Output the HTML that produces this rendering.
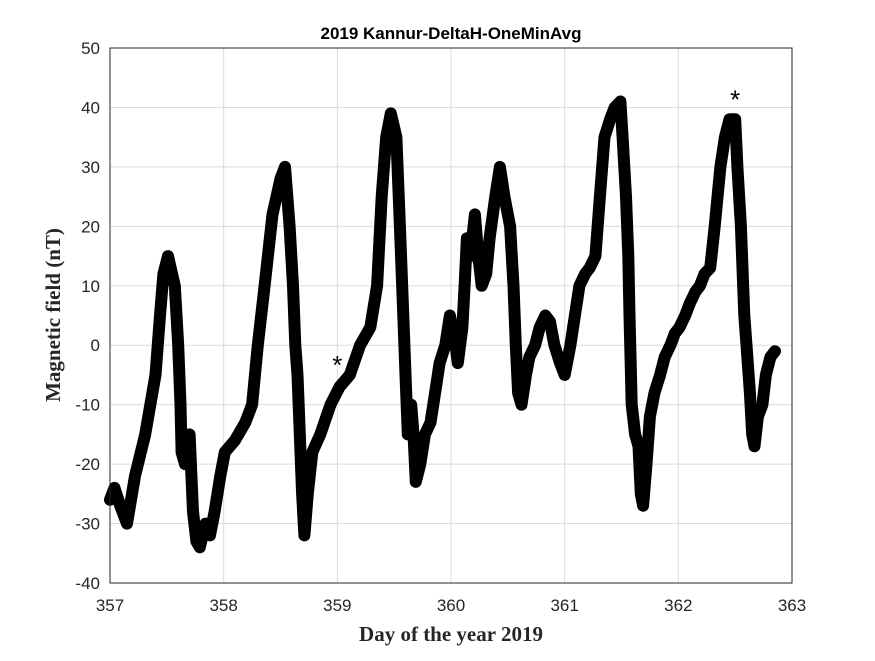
<!DOCTYPE html>
<html><head><meta charset="utf-8"><style>
html,body{margin:0;padding:0;background:#fff;}
svg text{font-family:"Liberation Sans",sans-serif;}
</style></head><body>
<svg width="875" height="656" xmlns="http://www.w3.org/2000/svg">
<rect width="875" height="656" fill="#fff"/>
<g id="grid"></g>
<g id="ticks"></g>
<g id="series"></g>
<rect x="110" y="48" width="682" height="535" fill="none" stroke="#262626" stroke-width="1"/>
<text x="451" y="39" text-anchor="middle" font-size="17" font-weight="bold">2019 Kannur-DeltaH-OneMinAvg</text>
<text x="451" y="641" text-anchor="middle" font-size="21" font-weight="bold" style="font-family:'Liberation Serif',serif" fill="#262626">Day of the year 2019</text>
<text transform="translate(60,315) rotate(-90)" text-anchor="middle" font-size="21" font-weight="bold" style="font-family:'Liberation Serif',serif" fill="#262626">Magnetic field (nT)</text>
</svg>
<script>
const xTicks=[357,358,359,360,361,362,363];
const yTicks=[-40,-30,-20,-10,0,10,20,30,40,50];
const days=[357.00,357.04,357.09,357.15,357.22,357.31,357.40,357.44,357.47,357.51,357.57,357.60,357.62,357.63,357.66,357.70,357.73,357.76,357.79,357.84,357.88,357.92,357.97,358.01,358.10,358.19,358.25,358.30,358.36,358.43,358.50,358.54,358.58,358.61,358.63,358.65,358.67,358.69,358.71,358.74,358.78,358.85,358.94,359.02,359.11,359.20,359.29,359.35,359.39,359.43,359.47,359.52,359.55,359.58,359.60,359.62,359.65,359.67,359.69,359.73,359.77,359.82,359.86,359.90,359.95,359.99,360.04,360.06,360.10,360.12,360.14,360.17,360.21,360.24,360.27,360.31,360.34,360.39,360.43,360.47,360.52,360.55,360.57,360.59,360.62,360.66,360.69,360.74,360.78,360.83,360.87,360.91,360.96,361.00,361.05,361.09,361.13,361.18,361.22,361.27,361.31,361.35,361.40,361.44,361.49,361.51,361.54,361.56,361.57,361.59,361.62,361.65,361.67,361.69,361.72,361.75,361.79,361.84,361.88,361.93,361.97,362.01,362.06,362.10,362.15,362.19,362.23,362.28,362.32,362.37,362.41,362.45,362.50,362.52,362.55,362.58,362.60,362.63,362.65,362.67,362.70,362.74,362.77,362.81,362.85];
const values=[-26,-24,-27,-30,-22,-15,-5,5,12,15,10,0,-10,-18,-20,-15,-28,-33,-34,-30,-32,-28,-22,-18,-16,-13,-10,0,10,22,28,30,20,10,0,-5,-15,-25,-32,-25,-18,-15,-10,-7,-5,0,3,10,25,35,39,35,20,5,-5,-15,-10,-15,-23,-20,-15,-13,-8,-3,0,5,0,-3,3,10,18,15,22,15,10,12,18,25,30,25,20,10,0,-8,-10,-5,-2,0,3,5,4,0,-3,-5,0,5,10,12,13,15,25,35,38,40,41,35,25,15,5,-10,-15,-17,-25,-27,-20,-12,-8,-5,-2,0,2,3,5,7,9,10,12,13,20,30,35,38,38,30,20,5,0,-8,-15,-17,-12,-10,-5,-2,-1];
const outDays=[359.0,362.5];
const outVals=[-3,41.7];
const X=d=>110+(d-357)*682/6;
const Y=v=>583-(v+40)*535/90;
const NS="http://www.w3.org/2000/svg";
const grid=document.getElementById('grid'),ticks=document.getElementById('ticks'),ser=document.getElementById('series');
function mk(t,a,p){const e=document.createElementNS(NS,t);for(const k in a)e.setAttribute(k,a[k]);p.appendChild(e);return e;}
xTicks.forEach(t=>{
 const l=mk('line',{x1:X(t),x2:X(t),y1:48,y2:583,stroke:'#dcdcdc','stroke-width':1},grid);
 
 
 const tx=mk('text',{x:X(t),y:611,'text-anchor':'middle','font-size':17,fill:'#262626'},ticks);
 tx.textContent=t;
 
 
});
yTicks.forEach(t=>{
 const l=mk('line',{x1:110,x2:792,y1:Y(t),y2:Y(t),stroke:'#dcdcdc','stroke-width':1},grid);
 
 
 const tx=mk('text',{x:100,y:Y(t)+6,'text-anchor':'end','font-size':17,fill:'#262626'},ticks);
 tx.textContent=t;
 
 
});
const pts=days.map((d,i)=>X(d).toFixed(1)+','+Y(values[i]).toFixed(1)).join(' ');
const pl=mk('polyline',{points:pts,fill:'none',stroke:'#000','stroke-width':12,'stroke-linejoin':'round','stroke-linecap':'round'},ser);


outDays.forEach((d,i)=>{
 const g=mk('text',{x:X(d),y:Y(outVals[i])+11,'text-anchor':'middle','font-size':26},ser);
 g.textContent='*';
 
 
});
</script>
</body></html>
